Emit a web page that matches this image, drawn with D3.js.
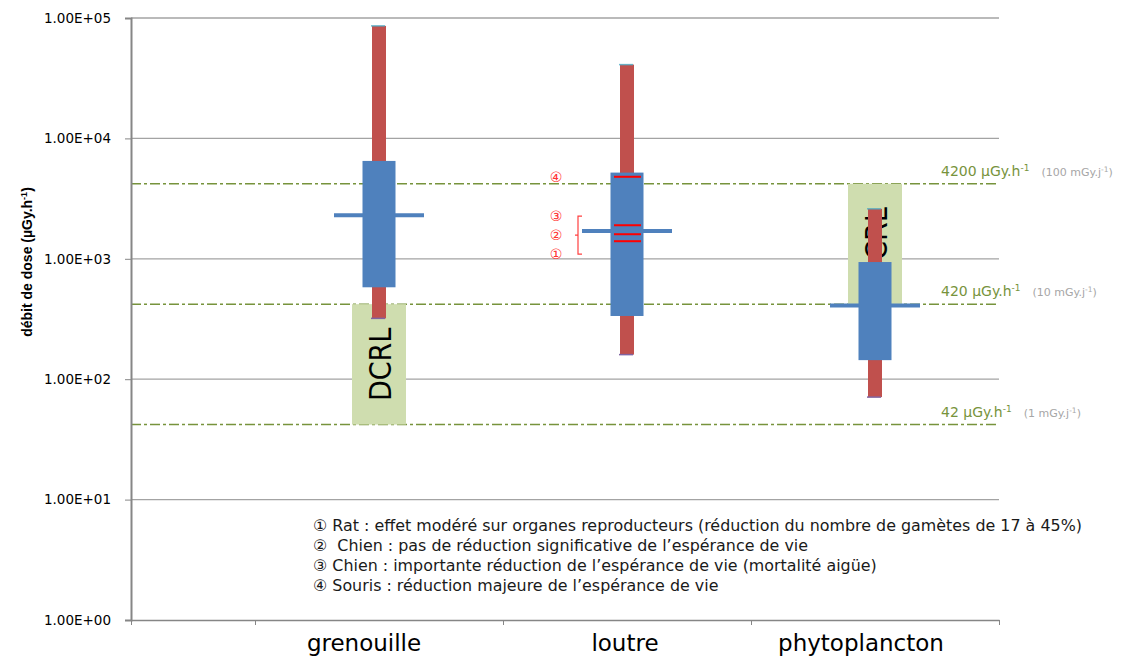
<!DOCTYPE html>
<html><head><meta charset="utf-8">
<script src="https://cdn.jsdelivr.net/npm/d3@7"></script>
<style>body{margin:0;background:#fff} svg{display:block}</style>
</head><body><svg id="c" width="1140" height="660"></svg>
<script>
const categories = ["grenouille", "loutre", "phytoplancton"];
const highs = [86000, 41000, 2600];
const lows = [320, 160, 71];
const boxTops = [6500, 5200, 940];
const boxBottoms = [580, 335, 144];
const medians = [2300, 1700, 410];
const dcrlLows = [42, null, 420];
const dcrlHighs = [420, null, 4200];
const yTicks = [1, 10, 100, 1000, 10000, 100000];
const yTickLabels = ["1.00E+00", "1.00E+01", "1.00E+02", "1.00E+03", "1.00E+04", "1.00E+05"];
const thresholds = [4200, 420, 42];
const thresholdHourly = ["4200 µGy.h", "420 µGy.h", "42 µGy.h"];
const thresholdDaily = ["(100 mGy.j", "(10 mGy.j", "(1 mGy.j"];
const effectMarks = ["④", "③", "②", "①"];
const effectValues = [4800, 1900, 1600, 1400];
const footnotes = [
  "① Rat : effet modéré sur organes reproducteurs (réduction du nombre de gamètes de 17 à 45%)",
  "②  Chien : pas de réduction significative de l’espérance de vie",
  "③ Chien : importante réduction de l’espérance de vie (mortalité aigüe)",
  "④ Souris : réduction majeure de l’espérance de vie"
];

const svg = d3.select("#c");
const pL = 131, pR = 999, pT = 18, pB = 620;
const x = d3.scaleLinear().domain([0, 7]).range([pL, pR]);
const slot = i => x(2 + 2 * i);
const y = d3.scaleLog().domain([1, 100000]).range([pB, pT]);

// gridlines
svg.append("g").selectAll("line").data(yTicks.slice(1)).join("line")
  .attr("x1", pL).attr("x2", pR)
  .attr("y1", d => y(d)).attr("y2", d => y(d))
  .attr("stroke", "#a3a3a3").attr("stroke-width", 1.3);

// threshold lines
svg.append("g").selectAll("line").data(thresholds).join("line")
  .attr("x1", pL).attr("x2", pR)
  .attr("y1", d => y(d)).attr("y2", d => y(d))
  .attr("stroke", "#77933C").attr("stroke-width", 1.5)
  .attr("stroke-dasharray", "10,3,3,3");

// threshold labels
const tl = svg.append("g").selectAll("text").data(thresholds).join("text")
  .attr("x", 941).attr("y", d => y(d) - 8)
  .attr("font-family", "DejaVu Sans, Verdana, sans-serif");
tl.append("tspan").attr("fill", "#77933C").attr("font-size", 14).text((d, i) => thresholdHourly[i]);
tl.append("tspan").attr("fill", "#77933C").attr("font-size", 9).attr("dy", -5).text("-1");
tl.append("tspan").attr("fill", "#a6a6a6").attr("font-size", 11).attr("dx", 12).attr("dy", 5).text((d, i) => thresholdDaily[i]);
tl.append("tspan").attr("fill", "#a6a6a6").attr("font-size", 7.5).attr("dy", -4).text("-1");
tl.append("tspan").attr("fill", "#a6a6a6").attr("font-size", 11).attr("dy", 4).text(")");

// DCRL rects and text
const dIdx = categories.map((c, i) => i).filter(i => dcrlLows[i] != null);
svg.append("g").selectAll("rect").data(dIdx).join("rect")
  .attr("x", i => slot(i) - 27).attr("width", 54)
  .attr("y", i => y(dcrlHighs[i])).attr("height", i => y(dcrlLows[i]) - y(dcrlHighs[i]))
  .attr("fill", "#CFDDAF");
svg.append("g").selectAll("text").data(dIdx).join("text")
  .attr("transform", i => `translate(${slot(i) + 1},${(y(dcrlHighs[i]) + y(dcrlLows[i])) / 2}) rotate(-90)`)
  .attr("text-anchor", "middle").attr("dominant-baseline", "central")
  .attr("font-family", "Liberation Sans Narrow, Arial Narrow, DejaVu Sans Condensed, sans-serif")
  .attr("font-size", 30).attr("fill", "#000").text("DCRL");

// medians
svg.append("g").selectAll("line").data(medians).join("line")
  .attr("x1", (d, i) => slot(i) - 45).attr("x2", (d, i) => slot(i) + 45)
  .attr("y1", d => y(d)).attr("y2", d => y(d))
  .attr("stroke", "#4F81BD").attr("stroke-width", 4);

// red high-low bars
svg.append("g").selectAll("rect").data(highs).join("rect")
  .attr("x", (d, i) => slot(i) - 7).attr("width", 14)
  .attr("y", d => y(d)).attr("height", (d, i) => y(lows[i]) - y(d))
  .attr("fill", "#C0504D");
svg.append("g").selectAll("line").data(highs).join("line")
  .attr("x1", (d, i) => slot(i) - 8).attr("x2", (d, i) => slot(i) + 6)
  .attr("y1", d => y(d)).attr("y2", d => y(d))
  .attr("stroke", "#4BACC6").attr("stroke-width", 1.5).attr("opacity", 0.8);
svg.append("g").selectAll("line").data(lows).join("line")
  .attr("x1", (d, i) => slot(i) - 8).attr("x2", (d, i) => slot(i) + 6)
  .attr("y1", d => y(d)).attr("y2", d => y(d))
  .attr("stroke", "#8064A2").attr("stroke-width", 1.5);

// blue boxes
svg.append("g").selectAll("rect").data(boxTops).join("rect")
  .attr("x", (d, i) => slot(i) - 16.5).attr("width", 33)
  .attr("y", d => y(d)).attr("height", (d, i) => y(boxBottoms[i]) - y(d))
  .attr("fill", "#4F81BD");

// effect lines (loutre)
const lx = slot(1);
svg.append("g").selectAll("line").data(effectValues).join("line")
  .attr("x1", lx - 13).attr("x2", lx + 14)
  .attr("y1", d => y(d)).attr("y2", d => y(d))
  .attr("stroke", "#FF0000").attr("stroke-width", 2);

// circled annotation marks
const midY = y(effectValues[2]) + 1;
const markY = [y(effectValues[0]), midY - 19, midY, midY + 19];
svg.append("g").selectAll("text").data(effectMarks).join("text")
  .attr("x", lx - 71).attr("y", (d, i) => markY[i])
  .attr("text-anchor", "middle").attr("dominant-baseline", "central")
  .attr("font-family", "DejaVu Sans, sans-serif").attr("font-size", 14)
  .attr("fill", "#FF3333").text(d => d);
svg.append("path")
  .attr("d", `M${lx - 45},${midY - 19} H${lx - 49} V${midY + 19} H${lx - 45} M${lx - 49},${midY} H${lx - 52}`)
  .attr("fill", "none").attr("stroke", "#FF4040").attr("stroke-width", 1.2);

// axes
const yAxis = svg.append("g").attr("transform", `translate(${pL},0)`)
  .call(d3.axisLeft(y).tickValues(yTicks).tickFormat((d, i) => yTickLabels[i]).tickSize(6).tickPadding(14));
yAxis.select(".domain").attr("stroke", "#868686").attr("stroke-width", 2);
yAxis.selectAll(".tick line").attr("stroke", "#868686");
yAxis.selectAll(".tick text").attr("font-family", "DejaVu Sans, Verdana, sans-serif")
  .attr("font-size", 13.5).attr("fill", "#000");

const xAxis = svg.append("g").attr("transform", `translate(0,${pB})`)
  .call(d3.axisBottom(x).tickValues([0, 1, 3, 5, 7]).tickFormat("").tickSize(5).tickSizeOuter(0));
xAxis.select(".domain").attr("stroke", "#868686").attr("stroke-width", 1.5);
xAxis.selectAll(".tick line").attr("stroke", "#868686");

// category labels
const labelShift = [-15, -2, -14];
svg.append("g").selectAll("text").data(categories).join("text")
  .attr("x", (d, i) => slot(i) + labelShift[i]).attr("y", 651)
  .attr("text-anchor", "middle")
  .attr("font-family", "DejaVu Sans, Verdana, sans-serif").attr("font-size", 23)
  .attr("fill", "#000").text(d => d);

// y title
const yt = svg.append("text").attr("transform", "translate(32,262) rotate(-90)")
  .attr("text-anchor", "middle")
  .attr("font-family", "Liberation Sans Narrow, Arial Narrow, sans-serif")
  .attr("font-weight", "bold").attr("font-size", 14).attr("fill", "#000");
yt.append("tspan").text("débit de dose (µGy.h");
yt.append("tspan").attr("font-size", 9).attr("dy", -5).text("-1");
yt.append("tspan").attr("dy", 5).text(")");

// footnotes
svg.append("g").selectAll("text").data(footnotes).join("text")
  .attr("x", 313).attr("y", (d, i) => 531 + i * 20)
  .attr("font-family", "DejaVu Sans, sans-serif")
  .attr("font-size", 15.9).attr("fill", "#1a1a1a")
  .style("white-space", "pre").attr("xml:space", "preserve").text(d => d);
</script>
</body></html>
